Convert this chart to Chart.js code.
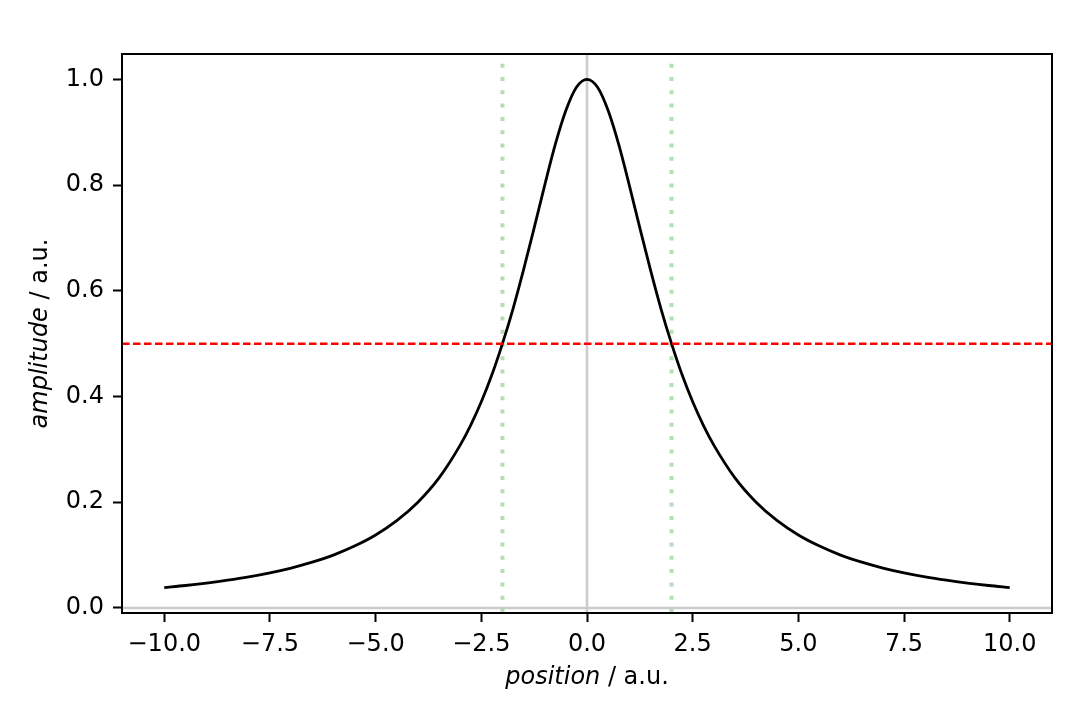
<!DOCTYPE html>
<html>
<head>
<meta charset="utf-8">
<script src="https://cdn.jsdelivr.net/npm/chart.js@4"></script>
<style>
  html, body { margin: 0; padding: 0; background: #fff; }
  #wrap { width: 1080px; height: 720px; }
</style>
</head>
<body>
<div id="wrap"><canvas id="grafico" width="1080" height="720"></canvas></div>
<script>
// curve
const posicao = [-10, -9.5, -9, -8.5, -8, -7.5, -7, -6.5, -6, -5.5, -5, -4.5, -4, -3.5, -3, -2.75, -2.5, -2.25, -2, -1.75, -1.5, -1.25, -1, -0.75, -0.5, -0.25,
    0, 0.25, 0.5, 0.75, 1, 1.25, 1.5, 1.75, 2, 2.25, 2.5, 2.75, 3, 3.5, 4, 4.5, 5, 5.5, 6, 6.5, 7, 7.5, 8, 8.5, 9, 9.5, 10];
const amplitude = [0.0385, 0.0424, 0.0471, 0.0525, 0.0588, 0.0664, 0.0755, 0.0865, 0.1, 0.117, 0.138, 0.165, 0.2, 0.246, 0.308, 0.346, 0.39, 0.441, 0.5, 0.566, 0.64, 0.719, 0.8, 0.877, 0.941, 0.985,
    1, 0.985, 0.941, 0.877, 0.8, 0.719, 0.64, 0.566, 0.5, 0.441, 0.39, 0.346, 0.308, 0.246, 0.2, 0.165, 0.138, 0.117, 0.1, 0.0865, 0.0755, 0.0664, 0.0588, 0.0525, 0.0471, 0.0424, 0.0385];
const meiaAltura = 0.5;
const larguraX = [-2, 2];
const xTicks = [-10, -7.5, -5, -2.5, 0, 2.5, 5, 7.5, 10];
const yTicks = [0, 0.2, 0.4, 0.6, 0.8, 1.0];
const xLim = [-11, 11];
const yLim = [-0.0096, 1.048];

const fonte = 'DejaVu Sans';
const tamanho = 24;

const curva = posicao.map((x, i) => ({x: x, y: amplitude[i]}));
const vertical = x => [{x: x, y: yLim[0]}, {x: x, y: yLim[1]}];
const horizontal = y => [{x: xLim[0], y: y}, {x: xLim[1], y: y}];

const fmt = v => (v < 0 ? '\u2212' : '') + Math.abs(v).toFixed(1);

const molduraELabels = {
    id: 'molduraELabels',
    afterDraw(chart) {
        const c = chart.ctx;
        const a = chart.chartArea;
        c.save();
        c.strokeStyle = '#000';
        c.lineWidth = 2;
        c.strokeRect(a.left, a.top, a.right - a.left, a.bottom - a.top);

        c.fillStyle = '#000';
        c.textBaseline = 'alphabetic';
        // x label
        const xi = 'position', xr = ' / a.u.';
        c.font = 'italic ' + tamanho + 'px "' + fonte + '"';
        const w1 = c.measureText(xi).width;
        c.font = tamanho + 'px "' + fonte + '"';
        const w2 = c.measureText(xr).width;
        let x0 = (a.left + a.right) / 2 - (w1 + w2) / 2;
        c.textAlign = 'left';
        c.font = 'italic ' + tamanho + 'px "' + fonte + '"';
        c.fillText(xi, x0, 684);
        c.font = tamanho + 'px "' + fonte + '"';
        c.fillText(xr, x0 + w1, 684);

        // y label
        const yi = 'amplitude', yr = ' / a.u.';
        c.font = 'italic ' + tamanho + 'px "' + fonte + '"';
        const v1 = c.measureText(yi).width;
        c.font = tamanho + 'px "' + fonte + '"';
        const v2 = c.measureText(yr).width;
        c.translate(47, (a.top + a.bottom) / 2);
        c.rotate(-Math.PI / 2);
        const y0 = -(v1 + v2) / 2;
        c.font = 'italic ' + tamanho + 'px "' + fonte + '"';
        c.fillText(yi, y0, 0);
        c.font = tamanho + 'px "' + fonte + '"';
        c.fillText(yr, y0 + v1, 0);
        c.restore();
    }
};

new Chart(document.getElementById('grafico').getContext('2d'), {
    type: 'line',
    data: {
        datasets: [
            {data: vertical(0), borderColor: '#cccccc', borderWidth: 2.6, pointRadius: 0, order: 5},
            {data: horizontal(0), borderColor: '#cccccc', borderWidth: 2.6, pointRadius: 0, order: 5},
            {data: vertical(larguraX[0]), borderColor: 'rgba(44,160,44,0.35)', borderWidth: 4, borderDash: [4, 9.3], pointRadius: 0, order: 4},
            {data: vertical(larguraX[1]), borderColor: 'rgba(44,160,44,0.35)', borderWidth: 4, borderDash: [4, 9.3], pointRadius: 0, order: 4},
            {data: curva, borderColor: '#000', borderWidth: 2.8, pointRadius: 0, cubicInterpolationMode: 'monotone', order: 3},
            {data: horizontal(meiaAltura), borderColor: '#ff0000', borderWidth: 2.5, borderDash: [7.5, 3.5], pointRadius: 0, order: 2}
        ]
    },
    options: {
        responsive: false,
        animation: false,
        events: [],
        layout: {padding: {left: 0, top: 54, right: 28, bottom: 0}},
        plugins: {legend: {display: false}, tooltip: {enabled: false}},
        scales: {
            x: {
                type: 'linear',
                min: xLim[0],
                max: xLim[1],
                afterBuildTicks: s => { s.ticks = xTicks.map(v => ({value: v})); },
                afterFit: s => { s.height = 107; },
                grid: {drawOnChartArea: false, drawTicks: true, tickLength: 9, tickWidth: 2, tickColor: '#000'},
                border: {display: false},
                ticks: {color: '#000', font: {family: fonte, size: tamanho}, padding: 8, maxRotation: 0, callback: v => fmt(v)}
            },
            y: {
                type: 'linear',
                min: yLim[0],
                max: yLim[1],
                afterBuildTicks: s => { s.ticks = yTicks.map(v => ({value: v})); },
                afterFit: s => { s.width = 122; },
                grid: {drawOnChartArea: false, drawTicks: true, tickLength: 9, tickWidth: 2, tickColor: '#000'},
                border: {display: false},
                ticks: {color: '#000', font: {family: fonte, size: tamanho}, padding: 9, callback: v => fmt(v)}
            }
        }
    },
    plugins: [molduraELabels]
});
</script>
</body>
</html>
